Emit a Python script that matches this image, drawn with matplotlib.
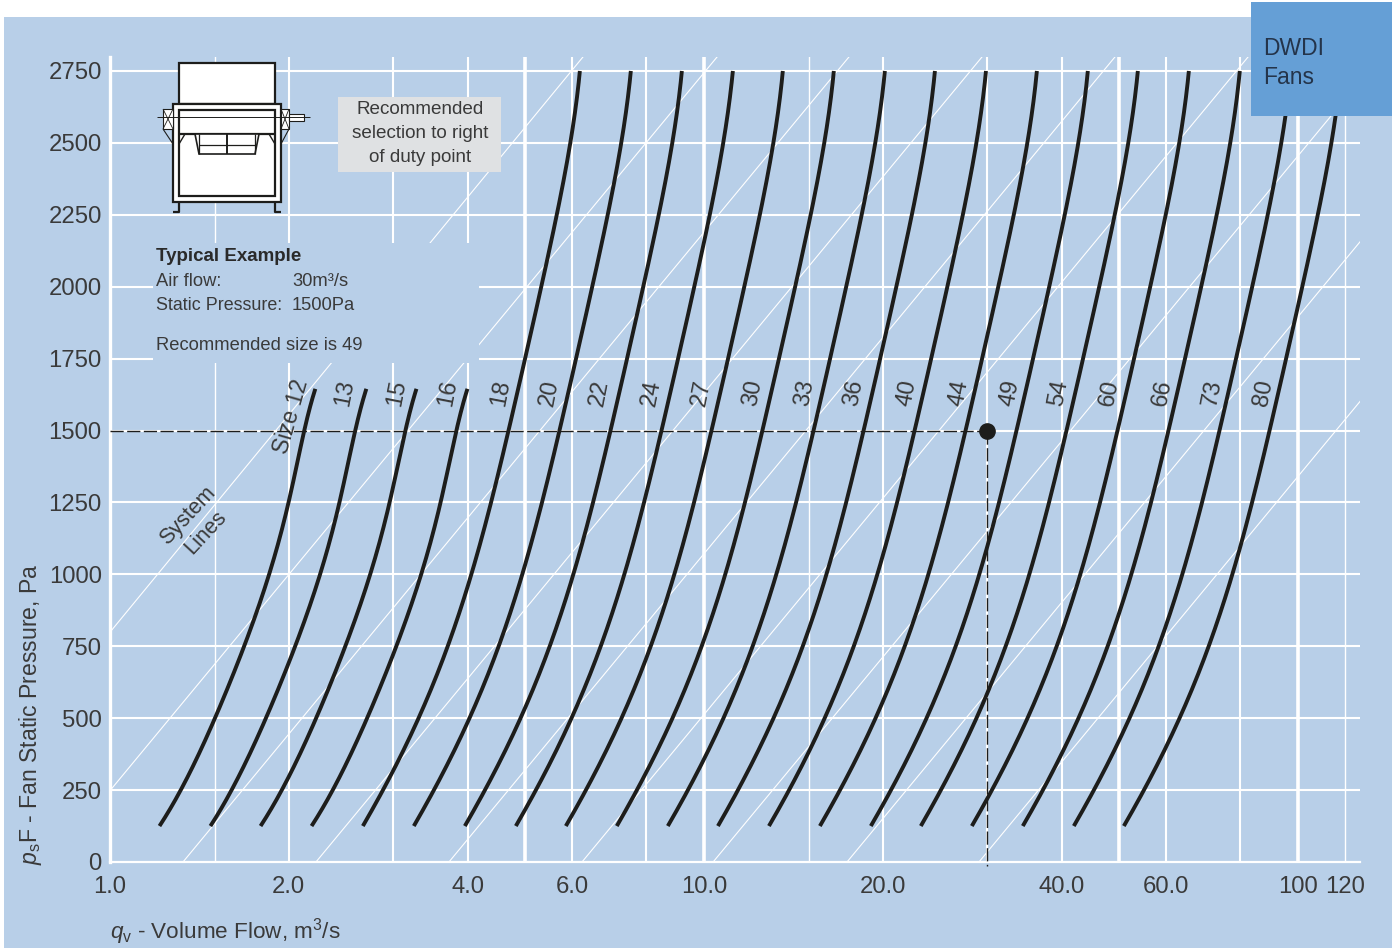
import matplotlib
matplotlib.use("Agg")
import matplotlib.pyplot as plt
import numpy as np
from matplotlib.patches import Rectangle, Polygon

plt.rcParams['font.family'] = ['Liberation Sans', 'DejaVu Sans']
plt.rcParams['mathtext.fontset'] = 'custom'
plt.rcParams['mathtext.rm'] = 'Liberation Sans'
plt.rcParams['mathtext.it'] = 'Liberation Sans:italic'

BG = '#b8cfe8'
TXT = '#3a3a3a'
INK = '#1d1d1b'

# fan sizes, left to right
sizes = ['12', '13', '15', '16', '18', '20', '22', '24', '27', '30',
         '33', '36', '40', '44', '49', '54', '60', '66', '73', '80']

# the first four curves stop at 1645 Pa, the rest run to the top
pressure_short = [125, 250, 500, 750, 1000, 1250, 1500, 1645]
pressure_full = [125, 250, 500, 750, 1000, 1250, 1500, 1750, 2000, 2250, 2500, 2750]

# volume flow, m3/s
flow = [
    [1.209, 1.322, 1.493, 1.687, 1.859, 1.986, 2.133, 2.213],
    [1.473, 1.610, 1.819, 2.056, 2.265, 2.419, 2.599, 2.697],
    [1.789, 1.956, 2.210, 2.497, 2.751, 2.938, 3.157, 3.275],
    [2.180, 2.383, 2.693, 3.043, 3.352, 3.580, 3.847, 3.991],
    [2.656, 2.904, 3.281, 3.707, 4.084, 4.362, 4.686, 4.997, 5.326, 5.658, 5.948, 6.183],
    [3.236, 3.538, 3.997, 4.517, 4.976, 5.314, 5.710, 6.088, 6.490, 6.893, 7.247, 7.534],
    [3.944, 4.312, 4.872, 5.505, 6.065, 6.477, 6.959, 7.420, 7.909, 8.401, 8.833, 9.182],
    [4.806, 5.254, 5.936, 6.708, 7.391, 7.893, 8.480, 9.042, 9.638, 10.24, 10.76, 11.19],
    [5.834, 6.378, 7.206, 8.143, 8.972, 9.581, 10.29, 10.98, 11.70, 12.43, 13.07, 13.58],
    [7.108, 7.771, 8.780, 9.921, 10.93, 11.67, 12.54, 13.37, 14.25, 15.14, 15.92, 16.55],
    [8.663, 9.471, 10.70, 12.09, 13.32, 14.23, 15.29, 16.30, 17.37, 18.45, 19.40, 20.17],
    [10.52, 11.50, 12.99, 14.68, 16.18, 17.28, 18.56, 19.79, 21.10, 22.41, 23.56, 24.49],
    [12.82, 14.02, 15.84, 17.89, 19.71, 21.05, 22.62, 24.12, 25.71, 27.31, 28.71, 29.85],
    [15.62, 17.08, 19.29, 21.80, 24.02, 25.65, 27.56, 29.39, 31.32, 33.27, 34.98, 36.36],
    [19.03, 20.81, 23.51, 26.56, 29.26, 31.25, 33.58, 35.80, 38.16, 40.54, 42.62, 44.30],
    [23.10, 25.25, 28.53, 32.24, 35.52, 37.94, 40.76, 43.46, 46.32, 49.21, 51.73, 53.78],
    [28.15, 30.78, 34.77, 39.29, 43.29, 46.23, 49.67, 52.96, 56.45, 59.96, 63.04, 65.54],
    [34.30, 37.50, 42.37, 47.87, 52.75, 56.33, 60.52, 64.53, 68.79, 73.06, 76.82, 79.85],
    [41.80, 45.70, 51.63, 58.34, 64.28, 68.65, 73.76, 78.64, 83.83, 89.04, 93.62, 97.31],
    [50.75, 55.48, 62.69, 70.83, 78.04, 83.35, 89.55, 95.48, 101.8, 108.1, 113.7, 118.2],
]

# where the size labels sit along the 1630 Pa level
label_q = [2.02, 2.487, 3.042, 3.707, 4.552, 5.505, 6.682, 8.175, 9.922, 12.09,
           14.79, 17.89, 21.97, 26.87, 32.75, 39.59, 48.07, 59.02, 71.67, 87.65]

# system lines: flow at 0 Pa and at the top of the plot
system_q_bottom = [0.4807, 0.7954, 1.327, 2.222, 3.721, 6.232, 10.36, 17.41, 29.04]
system_q_top = [6.255, 10.52, 17.54, 29.38, 49.19, 82.41, 137.4, 230.1, 384.0]

duty_q = 30
duty_p = 1500

x_labelled = [1, 2, 4, 6, 10, 20, 40, 60, 100, 120]
x_labels = ['1.0', '2.0', '4.0', '6.0', '10.0', '20.0', '40.0', '60.0', '100', '120']
y_ticks = [0, 250, 500, 750, 1000, 1250, 1500, 1750, 2000, 2250, 2500, 2750]
grid_x_thin = [1.5, 15, 120]
grid_x_mid = [2, 3, 4, 6, 8, 20, 30, 40, 60, 80]
grid_x_thick = [5, 10, 50, 100]

W, H = 1392, 948
fig = plt.figure(figsize=(W / 100, H / 100), dpi=100, facecolor='white')
fig.patches.append(Rectangle((4 / W, 0), 1 - 4 / W, 1 - 17 / H, transform=fig.transFigure,
                             facecolor=BG, edgecolor='none', zorder=-5))

# axes box in pixels: left 110, right 1360, top 57, bottom 862
ax = fig.add_axes([110 / W, (H - 862) / H, 1250 / W, 805 / H])
ax.set_facecolor('none')
ax.set_xscale('log')
ax.set_xlim(1, 127.2)
ax.set_ylim(0, 2798.6)

for s in ['top', 'right']:
    ax.spines[s].set_visible(False)
ax.spines['left'].set_color('white')
ax.spines['left'].set_linewidth(2.4)
ax.spines['bottom'].set_color('white')
ax.spines['bottom'].set_linewidth(1.6)

for p in y_ticks[1:]:
    ax.axhline(p, color='white', lw=1.5, zorder=1)
for q in grid_x_thin:
    ax.axvline(q, color='white', lw=1.0, zorder=1)
for q in grid_x_mid:
    ax.axvline(q, color='white', lw=1.5, zorder=1)
for q in grid_x_thick:
    ax.axvline(q, color='white', lw=2.6, zorder=1)

for q0, q1 in zip(system_q_bottom, system_q_top):
    ax.plot([q0, q1], [0, 2798.6], color='white', lw=0.8, zorder=2)

for row in flow:
    p = pressure_short if len(row) == len(pressure_short) else pressure_full
    # smooth through the read points
    fit = np.polynomial.Polynomial.fit(p, np.log10(row), 6 if len(row) > 8 else 5)
    pp = np.linspace(p[0], p[-1], 200)
    ax.plot(10 ** fit(pp), pp, color=INK, lw=2.8, solid_capstyle='butt', zorder=3)

ax.plot([1, duty_q], [duty_p, duty_p], color=INK, lw=1.0, dashes=(9.5, 2.5), zorder=4)
ax.plot([duty_q, duty_q], [duty_p, -14], color=INK, lw=1.0, dashes=(9.5, 2.5), zorder=4, clip_on=False)
ax.plot([duty_q], [duty_p], 'o', color=INK, ms=11, zorder=5)

for i, (name, q) in enumerate(zip(sizes, label_q)):
    if i == 0:
        ax.text(q, 1550, 'Size ' + name, rotation=74, ha='center', va='center', fontsize=16.5, color=TXT)
    else:
        ax.text(q, 1630, name, rotation=79, ha='center', va='center', fontsize=17, color=TXT)

ax.minorticks_off()
ax.set_xticks(x_labelled)
ax.set_xticklabels(x_labels)
ax.set_yticks(y_ticks)
ax.minorticks_off()
ax.tick_params(axis='both', length=0, labelsize=17.2, labelcolor=TXT)
ax.tick_params(axis='x', pad=10.4)
ax.tick_params(axis='y', pad=6)
ax.set_xlabel(r'$\mathit{q}_{\mathrm{v}}$ - Volume Flow, m$^{3}$/s', loc='left', fontsize=16.2,
              color=TXT, labelpad=13)
ax.set_ylabel(r'$\mathit{p}_{\mathrm{s}}$F - Fan Static Pressure, Pa', loc='bottom', fontsize=16.6,
              color=TXT, labelpad=3)
ax.yaxis.label.set_y(-3 / 805)

# everything below goes on top and is placed in picture pixels
over = fig.add_axes([0, 0, 1, 1], facecolor='none')
over.set_xlim(0, W)
over.set_ylim(H, 0)
over.axis('off')


def box(x0, y0, x1, y1, fc='white', ec=INK, lw=1.4, z=6):
    over.add_patch(Rectangle((x0, y0), x1 - x0, y1 - y0, facecolor=fc, edgecolor=ec, lw=lw, zorder=z))


def line(xs, ys, lw=1.4, z=8):
    over.plot(xs, ys, color=INK, lw=lw, zorder=z, solid_capstyle='butt')


box(153, 243, 479, 363, fc=BG, ec='none', z=5)
box(338, 97, 501, 172, fc='#dfe1e3', ec='none', z=5)
box(1251, 2, 1392, 116, fc='#659fd6', ec='none', z=5)

# fan drawing
box(179, 63, 275, 104, lw=1.6)
box(173, 104, 281, 202, lw=1.6)
box(179, 110, 275, 196, lw=1.6, z=7)
line([179, 275], [134, 134], lw=1.6)
box(163, 109, 173, 129, lw=0.8)
box(281, 109, 289, 129, lw=0.8)
line([163, 173], [109, 129], lw=0.6)
line([163, 173], [129, 109], lw=0.6)
line([281, 289], [109, 129], lw=0.6)
line([281, 289], [129, 109], lw=0.6)
box(289, 114, 304, 121, lw=0.8)
line([157, 310], [117, 117], lw=0.7)
line([163, 173], [129, 144], lw=0.8)
line([289, 281], [129, 144], lw=0.8)
line([179, 185], [144, 134], lw=1.0)
line([275, 269], [144, 134], lw=1.0)
over.add_patch(Polygon([(195, 134), (199, 154), (255, 154), (259, 134)], closed=True,
                       facecolor='white', edgecolor=INK, lw=1.2, zorder=8))
line([199, 255], [145, 145], lw=0.9, z=9)
line([199, 199], [134, 154], lw=0.9, z=9)
line([255, 255], [134, 154], lw=0.9, z=9)
line([227, 227], [134, 154], lw=1.4, z=9)
line([173, 179, 179], [212, 212, 202], lw=1.6)
line([281, 275, 275], [212, 212, 202], lw=1.6)

# notes
kw = dict(fontsize=13.2, color=TXT, va='center', zorder=10)
grey_kw = dict(fontsize=13.6, color=TXT, va='center', ha='center', zorder=10)
over.text(420, 109.5, 'Recommended', **grey_kw)
over.text(420, 133.5, 'selection to right', **grey_kw)
over.text(420, 157.5, 'of duty point', **grey_kw)
over.text(156, 256, 'Typical Example', fontweight='bold', fontsize=13.5, color='#2a2a2a', va='center', zorder=10)
over.text(156, 281, 'Air flow:', **kw)
over.text(292, 281, '30m³/s', **kw)
over.text(156, 305, 'Static Pressure:', fontsize=12.9, color=TXT, va='center', zorder=10)
over.text(292, 305, '1500Pa', **kw)
over.text(156, 345, 'Recommended size is 49', **kw)

over.text(188, 516, 'System', rotation=47, ha='center', va='center', fontsize=15.5, color=TXT, zorder=10)
over.text(206, 533, 'Lines', rotation=47, ha='center', va='center', fontsize=15.5, color=TXT, zorder=10)

over.text(1263, 48.5, 'DWDI', fontsize=16.5, color='#24344a', va='center', zorder=10)
over.text(1263, 77.5, 'Fans', fontsize=16.5, color='#24344a', va='center', zorder=10)

fig.savefig('out.png', dpi=100, facecolor='white')
